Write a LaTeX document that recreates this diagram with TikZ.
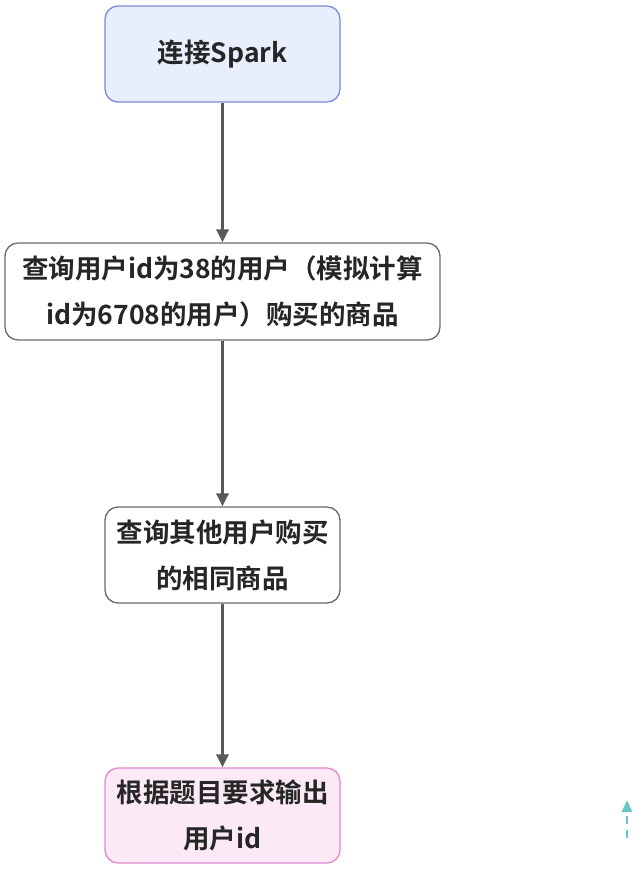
\documentclass[tikz,border=0pt]{standalone}
\usepackage{fontspec}
\newfontfamily\cjk{Noto Sans CJK SC}[BoldFont={Noto Sans CJK SC Bold}]
\usetikzlibrary{arrows.meta}
\definecolor{bA}{HTML}{E8EEFB}\definecolor{dA}{HTML}{7B8BDD}
\definecolor{bD}{HTML}{FBEAF5}\definecolor{dD}{HTML}{E088D0}
\definecolor{ln}{HTML}{595959}\definecolor{tl}{HTML}{6CC4C4}
\begin{document}
\begin{tikzpicture}[x=1pt,y=-1pt,
 box/.style={draw=ln!90,line width=1.3pt,rounded corners=13pt,fill=white,align=center,
   font=\cjk\bfseries\fontsize{26.5}{46}\selectfont,text=black!85,inner sep=0pt},
 arr/.style={draw=ln,line width=3pt,-{Triangle[length=13pt,width=12pt]}}]
\useasboundingbox (0,0) rectangle (643,870);
\node[box,fill=bA,draw=dA,minimum width=235pt,minimum height=96pt] (a) at (222.5,54) {连接Spark};
\node[box,minimum width=435pt,minimum height=97pt] (b) at (222.5,291.5) {查询用户id为38的用户（模拟计算\\id为6708的用户）购买的商品};
\node[box,minimum width=235pt,minimum height=96pt] (c) at (222.5,555) {查询其他用户购买\\的相同商品};
\node[box,fill=bD,draw=dD,minimum width=235pt,minimum height=95pt] (d) at (222.5,815.5) {根据题目要求输出\\用户id};
\draw[arr] (a) -- (b);
\draw[arr] (b) -- (c);
\draw[arr] (c) -- (d);
\coordinate (s) at (627,838); \coordinate (t) at (627,800);
\draw[tl,line width=2.5pt,dash pattern=on 8pt off 6pt,-{Triangle[length=12pt,width=10pt]}] (s) -- (t);
\end{tikzpicture}
\end{document}
